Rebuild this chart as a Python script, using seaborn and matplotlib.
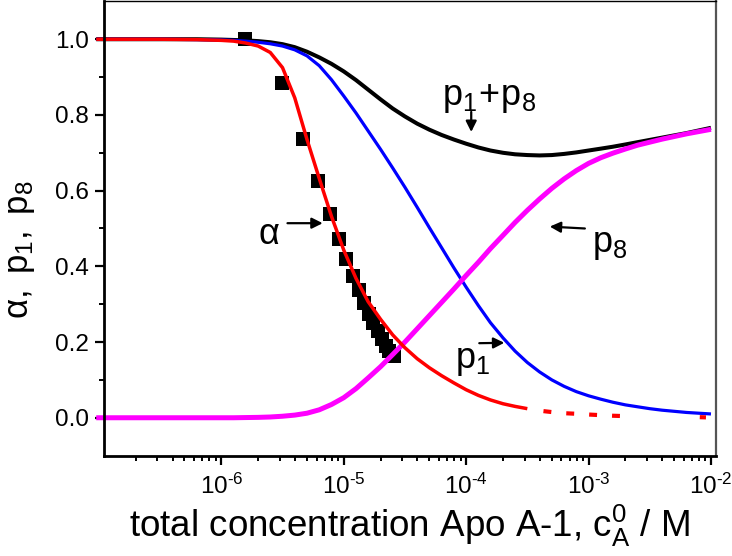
import matplotlib
matplotlib.use("Agg")
import matplotlib.pyplot as plt
import seaborn as sns
import pandas as pd
import numpy as np
from matplotlib.ticker import LogLocator, FixedLocator, NullFormatter

# ---------------- data ----------------
# concentration grid (M) shared by the model curves
conc = [9.5e-8, 3.16e-7, 6.31e-7,
        1e-6, 1.26e-6, 1.58e-6, 2.0e-6, 2.51e-6, 3.16e-6, 3.98e-6, 5.01e-6, 6.31e-6, 7.94e-6,
        1e-5, 1.26e-5, 1.58e-5, 2.0e-5, 2.51e-5, 3.16e-5, 3.98e-5, 5.01e-5, 6.31e-5, 7.94e-5,
        1e-4, 1.26e-4, 1.58e-4, 2.0e-4, 2.51e-4, 3.16e-4, 3.98e-4, 5.01e-4, 6.31e-4, 7.94e-4,
        1e-3, 1.26e-3, 1.58e-3, 2.0e-3, 2.51e-3, 3.16e-3, 3.98e-3, 5.01e-3, 6.31e-3, 7.94e-3,
        1e-2]

# measured points (black squares)
sq_x = [1.57e-6, 3.15e-6, 4.68e-6, 6.2e-6, 7.73e-6, 9.2e-6, 1.05e-5, 1.19e-5,
        1.33e-5, 1.47e-5, 1.6e-5, 1.74e-5, 1.89e-5, 2.05e-5, 2.2e-5, 2.36e-5, 2.55e-5]
sq_y = [1.0, 0.885, 0.736, 0.626, 0.538, 0.471, 0.419, 0.374,
        0.337, 0.302, 0.275, 0.25, 0.228, 0.208, 0.19, 0.176, 0.163]

# alpha (red), solid part on conc[:29]
alpha_y = [1.0, 1.0, 0.999,
           0.997, 0.995, 0.99, 0.982, 0.965, 0.925, 0.845, 0.735, 0.632, 0.532,
           0.443, 0.368, 0.307, 0.26, 0.219, 0.185, 0.156, 0.132, 0.111, 0.092,
           0.074, 0.059, 0.047, 0.037, 0.03, 0.024]
# alpha, dashed continuation
alpha_dash_x = [4.28e-4, 5.01e-4, 6.31e-4, 7.94e-4, 1e-3, 1.26e-3, 1.58e-3, 1.9e-3]
alpha_dash_y = [0.0175, 0.015, 0.012, 0.0105, 0.0085, 0.0068, 0.0053, 0.0045]
alpha_end_x = [8.1e-3, 9.1e-3]
alpha_end_y = [0.0015, 0.001]

# p1 (blue)
p1_y = [1.0, 1.0, 0.999,
        0.998, 0.997, 0.995, 0.992, 0.988, 0.982, 0.972, 0.956, 0.93, 0.893,
        0.85, 0.805, 0.758, 0.709, 0.66, 0.609, 0.556, 0.502, 0.449, 0.396,
        0.345, 0.296, 0.251, 0.211, 0.176, 0.146, 0.121, 0.100, 0.083, 0.069,
        0.058, 0.049, 0.041, 0.034, 0.029, 0.024, 0.020, 0.017, 0.014, 0.012,
        0.010]

# p8 (magenta)
p8_y = [0.0, 0.0, 0.0,
        0.0, 0.0, 0.0005, 0.001, 0.002, 0.004, 0.007, 0.012, 0.021, 0.035,
        0.053, 0.077, 0.105, 0.135, 0.167, 0.2, 0.235, 0.27, 0.305, 0.34,
        0.376, 0.411, 0.447, 0.482, 0.516, 0.548, 0.578, 0.606, 0.631, 0.653,
        0.672, 0.687, 0.699, 0.71, 0.72, 0.728, 0.736, 0.743, 0.75, 0.756,
        0.762]

# p1 + p8 (black)
sum_y = [1.0, 1.0, 1.0,
         0.999, 0.998, 0.997, 0.995, 0.992, 0.987, 0.979, 0.967, 0.952, 0.935,
         0.915, 0.892, 0.867, 0.841, 0.817, 0.796, 0.777, 0.761, 0.747, 0.735,
         0.724, 0.714, 0.706, 0.7, 0.696, 0.694, 0.693, 0.694, 0.697, 0.701,
         0.706, 0.711, 0.716, 0.722, 0.728, 0.734, 0.74, 0.746, 0.752, 0.759,
         0.766]

x_major = [1e-6, 1e-5, 1e-4, 1e-3, 1e-2]
x_major_labels = ["$\\mathregular{10^{\u20106}}$", "$\\mathregular{10^{\u20105}}$",
                  "$\\mathregular{10^{\u20104}}$", "$\\mathregular{10^{\u20103}}$",
                  "$\\mathregular{10^{\u20102}}$"]
y_major = [0.0, 0.2, 0.4, 0.6, 0.8, 1.0]
y_major_labels = ["0.0", "0.2", "0.4", "0.6", "0.8", "1.0"]
y_minor = [0.1, 0.3, 0.5, 0.7, 0.9]

# ---------------- style ----------------
sns.set_theme(style="ticks")
plt.rcParams["font.family"] = ["Liberation Sans", "DejaVu Sans"]
plt.rcParams["mathtext.fontset"] = "custom"
plt.rcParams["mathtext.rm"] = "Liberation Sans"
plt.rcParams["mathtext.it"] = "Liberation Sans:italic"
plt.rcParams["mathtext.bf"] = "Liberation Sans:bold"
plt.rcParams["text.color"] = "black"
plt.rcParams["axes.labelcolor"] = "black"
plt.rcParams["xtick.color"] = "black"
plt.rcParams["ytick.color"] = "black"

fig = plt.figure(figsize=(7.32, 5.56), dpi=100)
ax = fig.add_axes([104/732, (556-455.6)/556, (715.7-104)/732, (455.6-1)/556])

def df(x, y):
    return pd.DataFrame({"x": x, "y": y})

kw = dict(ax=ax, x="x", y="y", sort=False, estimator=None, legend=False)
sns.lineplot(data=df(conc, sum_y), color="black", lw=2.9, **kw)
sns.lineplot(data=df(conc, p1_y), color="#0000ff", lw=2.3, **kw)
sns.lineplot(data=df(conc, p8_y), color="#ff00ff", lw=3.6, **kw)
sns.lineplot(data=df(conc[:len(alpha_y)], alpha_y), color="#ff0000", lw=2.5, **kw)
sns.lineplot(data=df(alpha_dash_x, alpha_dash_y), color="#ff0000", lw=3.0, **kw)
sns.lineplot(data=df(alpha_end_x, alpha_end_y), color="#ff0000", lw=3.0, **kw)
lines = ax.get_lines()
lines[4].set_linestyle((0, (1.9, 3.6)))
for ln in lines:
    ln.set_clip_on(False)
    ln.set_solid_capstyle("butt")
    ln.set_solid_joinstyle("round")

sns.scatterplot(data=df(sq_x, sq_y), x="x", y="y", ax=ax, marker="s", s=88,
                color="black", edgecolor="black", linewidth=0, zorder=1,
                legend=False)

ax.set_xscale("log")
ax.set_xlim(1.1e-7, 1.093e-2)
ax.set_ylim(-0.1, 1.101)

ax.xaxis.set_major_locator(FixedLocator(x_major))
ax.set_xticklabels(x_major_labels)
ax.xaxis.set_minor_locator(LogLocator(base=10, subs=np.arange(2, 10), numticks=20))
ax.xaxis.set_minor_formatter(NullFormatter())
ax.set_yticks(y_major)
ax.set_yticklabels(y_major_labels)
ax.yaxis.set_minor_locator(FixedLocator(y_minor))

ax.tick_params(which="major", direction="out", length=6.8, width=1.6,
               labelsize=17.5, colors="black", labelcolor="black", pad=4)
ax.tick_params(which="minor", direction="out", length=3.8, width=1.4)
ax.tick_params(top=False, right=False, which="both")
ax.tick_params(axis="x", which="major", pad=6)

for s in ["left", "bottom"]:
    ax.spines[s].set_linewidth(2.0)
    ax.spines[s].set_color("black")
ax.spines["top"].set_visible(True)
ax.spines["right"].set_visible(True)
ax.spines["top"].set_linewidth(1.0)
ax.spines["top"].set_color("black")
ax.spines["right"].set_linewidth(1.6)
ax.spines["right"].set_color("#555555")

ax.set_xlabel("total concentration Apo A-1, $\\mathregular{c_A^0}$ / M",
              fontsize=26.5, labelpad=3, color="black")
ax.set_ylabel("$\\mathregular{\\alpha,\\ p_1,\\ p_8}$", fontsize=25, color="black")
ax.yaxis.set_label_coords(-0.11, 0.452)

apk = dict(arrowstyle="-|>", color="black", lw=1.6, mutation_scale=16,
           shrinkA=0, shrinkB=0)
ax.annotate("", xy=(6.73e-6, 0.514), xytext=(3.47e-6, 0.514), arrowprops=apk)
ax.text(2.43e-6, 0.485, "$\\mathregular{\\alpha}$", fontsize=26,
        ha="center", va="center", color="black")

ax.annotate("", xy=(1.1e-4, 0.755), xytext=(1.1e-4, 0.808), arrowprops=apk)
ax.text(1.545e-4, 0.845, "$\\mathregular{p_1\\!+\\!p_8}$", fontsize=26,
        ha="center", va="center", color="black")

ax.annotate("", xy=(4.82e-4, 0.505), xytext=(9.33e-4, 0.50), arrowprops=apk)
ax.text(1.49e-3, 0.459, "$\\mathregular{p_8}$", fontsize=26,
        ha="center", va="center", color="black")

ax.annotate("", xy=(2.05e-4, 0.198), xytext=(1.28e-4, 0.197), arrowprops=apk)
ax.text(1.12e-4, 0.152, "$\\mathregular{p_1}$", fontsize=26,
        ha="center", va="center", color="black")

fig.savefig("out.png", dpi=100)
